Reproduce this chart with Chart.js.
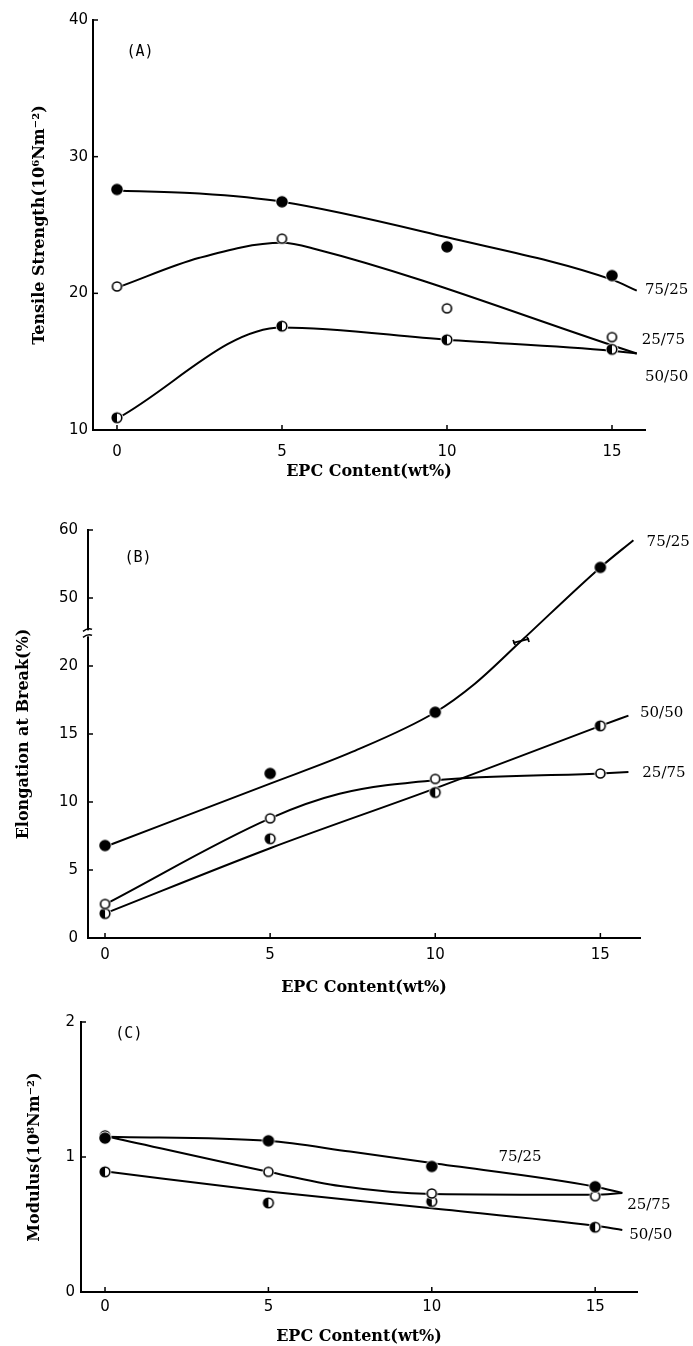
<!DOCTYPE html>
<html><head><meta charset="utf-8">
<script src="https://cdn.jsdelivr.net/npm/chart.js@4.4.1/dist/chart.umd.min.js"></script>
<style>
html,body{margin:0;padding:0;background:#fff;}
#wrap{position:relative;width:693px;height:1346px;overflow:hidden;}
canvas{position:absolute;left:0;}
</style></head><body>
<div id="wrap">
<canvas id="ca" width="693" height="490" style="top:0px"></canvas>
<canvas id="cb" width="693" height="510" style="top:490px"></canvas>
<canvas id="cc" width="693" height="346" style="top:1000px"></canvas>
</div>
<script>
// ---------- data ----------
const xContent = [0, 5, 10, 15];
const xTicks = [0, 5, 10, 15];

// (A) Tensile strength (10^6 N m^-2)
const tsA_7525 = [27.6, 26.7, 23.4, 21.3];
const tsA_2575 = [20.5, 24.0, 18.9, 16.8];
const tsA_5050 = [10.9, 17.6, 16.6, 15.9];
const yTicksA = [10, 20, 30, 40];
const curveA_7525 = [[0.15,27.5],[2.5,27.3],[5,26.7],[10,24.1],[15,21.0],[15.75,20.2]];
const curveA_2575 = [[0.1,20.5],[2.5,22.6],[5,23.7],[6,23.25],[15.75,15.6]];
const curveA_5050 = [[0.05,10.9],[5,17.5],[10,16.6],[15,15.8],[15.75,15.6]];

// (B) Elongation at break (%)
const elB_7525 = [6.8, 12.1, 16.6, 54.5];
const elB_2575 = [2.5, 8.8, 11.7, 12.1];
const elB_5050 = [1.8, 7.3, 10.7, 15.6];
const yTicksB = [0, 5, 10, 15, 20, 50, 60];
const curveB_7525 = [[0.1,6.8],[5,11.35],[7.5,13.7],[10,16.6],[11.2,18.7],[12.6,38.4],[15,54.5],[16,58.5]];
const curveB_2575 = [[0.1,2.6],[5,8.8],[7.1,10.6],[10,11.6],[15,12.1],[15.85,12.2]];
const curveB_5050 = [[0.1,1.9],[5,6.6],[10,11.0],[15,15.6],[15.85,16.35]];

// (C) Modulus (10^8 N m^-2)
const mdC_7525 = [1.14, 1.12, 0.93, 0.78];
const mdC_2575 = [1.16, 0.89, 0.73, 0.71];
const mdC_5050 = [0.89, 0.66, 0.67, 0.48];
const yTicksC = [0, 1, 2];
const curveC_7525 = [[0.1,1.15],[5,1.12],[7.5,1.04],[10,0.955],[15,0.78],[15.83,0.733]];
const curveC_2575 = [[0.1,1.15],[5,0.89],[7.2,0.785],[10,0.726],[15,0.72],[15.83,0.733]];
const curveC_5050 = [[0.1,0.89],[5,0.745],[10,0.62],[15,0.49],[15.83,0.46]];

// ---------- helpers ----------
// broken axis for (B): 0-20 linear, compressed break, 50-60 at half scale
function toT(v){ if(v<=20) return v; if(v>=45) return 25+(v-50)/2; return 20+(v-20)*0.1; }
function fromT(t){ if(t<=20) return t; if(t>=22.5) return 50+(t-25)*2; return 20+(t-20)*10; }

function marker(type, r){
  const s = Math.ceil(2*r+6);
  const c = document.createElement('canvas'); c.width=s; c.height=s;
  const g = c.getContext('2d'); const cx=s/2, cy=s/2;
  g.beginPath(); g.arc(cx,cy,r+1.5,0,Math.PI*2); g.fillStyle='#fff'; g.fill();
  g.beginPath(); g.arc(cx,cy,r,0,Math.PI*2);
  g.fillStyle = type==='filled' ? '#000' : '#fff'; g.fill();
  g.lineWidth=1.6; g.strokeStyle='#000'; g.stroke();
  if(type==='half'){
    g.beginPath(); g.moveTo(cx,cy-r); g.arc(cx,cy,r,-Math.PI/2,Math.PI/2,true); g.closePath();
    g.fillStyle='#000'; g.fill();
  }
  return c;
}
const mFilled = marker('filled',5), mOpen = marker('open',4.5), mHalf = marker('half',4.8);

const tickFont = {family:'"DejaVu Sans", sans-serif', size:15};
const titleFont = {family:'"DejaVu Serif", serif', size:16, weight:'bold'};
const seriesFont = '15px "DejaVu Serif", serif';
const tagFont = '15px "DejaVu Sans Mono", monospace';

function pts(xs, ys, f){ return xs.map((x,i)=>({x:x, y:f?f(ys[i]):ys[i]})); }
function crv(c, f){ return c.map(p=>({x:p[0], y:f?f(p[1]):p[1]})); }

function markerDs(data, img){
  return {type:'scatter', data, showLine:false, pointStyle:img, pointRadius:6, order:0};
}
function lineDs(data){
  return {type:'scatter', data, showLine:true, pointRadius:0, borderColor:'#000', borderWidth:2,
          tension:0.4, cubicInterpolationMode:'monotone', fill:false, order:1};
}

const decor = {
  id:'decor',
  afterDraw(chart, args, opts){
    const ctx = chart.ctx, xs = chart.scales.x, ys = chart.scales.y;
    ctx.save();
    ctx.strokeStyle='#000'; ctx.lineWidth=1.5;
    ys.ticks.forEach(t=>{ const py = ys.getPixelForValue(t.value);
      ctx.beginPath(); ctx.moveTo(xs.left, py); ctx.lineTo(xs.left+5, py); ctx.stroke(); });
    xs.ticks.forEach(t=>{ const px = xs.getPixelForValue(t.value);
      ctx.beginPath(); ctx.moveTo(px, ys.bottom); ctx.lineTo(px, ys.bottom-5); ctx.stroke(); });
    ctx.fillStyle='#000'; ctx.textBaseline='middle';
    (opts.labels||[]).forEach(l=>{
      ctx.font = l.font || seriesFont; ctx.textAlign = l.align || 'left';
      const yv = opts.yMap ? opts.yMap(l.y) : l.y;
      ctx.fillText(l.text, xs.getPixelForValue(l.x), ys.getPixelForValue(yv));
    });
    if(opts.after) opts.after(chart, ctx);
    ctx.restore();
  }
};

function makeChart(id, p){
  return new Chart(document.getElementById(id), {
    type:'scatter',
    data:{datasets:p.datasets},
    options:{
      responsive:false, animation:false, events:[],
      layout:{padding:{left:0, right:p.padR, top:p.padT, bottom:0}},
      plugins:{legend:{display:false}, tooltip:{enabled:false},
               decor:{labels:p.labels, yMap:p.yMap, after:p.after}},
      scales:{
        x:{type:'linear', position:'bottom', min:p.xmin, max:p.xmax,
           afterBuildTicks:s=>{ s.ticks = xTicks.map(v=>({value:v})); },
           afterFit:s=>{ s.height = p.xh; },
           grid:{display:false, drawTicks:false},
           border:{display:true, color:'#000', width:2},
           ticks:{color:'#000', font:tickFont, padding:p.xpad, maxRotation:0, autoSkip:false,
                  callback:v=>String(v)},
           title:{display:true, text:'EPC Content(wt%)', color:'#000', font:titleFont,
                  padding:{top:0, bottom:p.xtpad}}},
        y:{type:'linear', position:'left', min:p.ymin, max:p.ymax,
           afterBuildTicks:s=>{ s.ticks = p.yTicks.map(v=>({value:p.yMap?p.yMap(v):v})); },
           afterFit:s=>{ s.width = p.yw; },
           grid:{display:false, drawTicks:false},
           border:{display:true, color:'#000', width:2},
           ticks:{color:'#000', font:tickFont, padding:p.ypad, autoSkip:false,
                  callback:v=>String(Math.round(p.yInv?p.yInv(v):v))},
           title:{display:true, text:p.ytitle, color:'#000', font:titleFont,
                  padding:{top:p.ytpad, bottom:0}}}
      }
    },
    plugins:[decor]
  });
}

// ---------- (A) ----------
makeChart('ca', {
  xmin:-0.727, xmax:16.0, ymin:10, ymax:40, yTicks:yTicksA,
  padR:48, padT:20, xh:60, yw:93, xpad:13, xtpad:9, ypad:5, ytpad:30,
  ytitle:'Tensile Strength(10\u2076Nm\u207B\u00B2)',
  datasets:[
    markerDs(pts(xContent, tsA_7525), mFilled),
    markerDs(pts(xContent, tsA_2575), mOpen),
    markerDs(pts(xContent, tsA_5050), mHalf),
    lineDs(crv(curveA_7525)), lineDs(crv(curveA_2575)), lineDs(crv(curveA_5050))
  ],
  labels:[
    {text:'75/25', x:16.0, y:20.24},
    {text:'25/75', x:15.9, y:16.58},
    {text:'50/50', x:16.0, y:13.88},
    {text:'(A)', x:0.7, y:37.65, align:'center', font:tagFont}
  ]
});

// ---------- (B) ----------
makeChart('cb', {
  xmin:-0.515, xmax:16.2, ymin:0, ymax:30, yTicks:yTicksB, yMap:toT, yInv:fromT,
  padR:53, padT:40, xh:62, yw:88, xpad:8, xtpad:3, ypad:10, ytpad:14,
  ytitle:'Elongation at Break(%)',
  datasets:[
    markerDs(pts(xContent, elB_7525, toT), mFilled),
    markerDs(pts(xContent, elB_2575, toT), mOpen),
    markerDs(pts(xContent, elB_5050, toT), mHalf),
    lineDs(crv(curveB_7525, toT)), lineDs(crv(curveB_2575, toT)), lineDs(crv(curveB_5050, toT))
  ],
  labels:[
    {text:'75/25', x:16.4, y:58.2},
    {text:'50/50', x:16.2, y:16.5},
    {text:'25/75', x:16.27, y:12.1},
    {text:'(B)', x:1.0, y:55.9, align:'center', font:tagFont}
  ],
  after:(chart, ctx)=>{
    const xs = chart.scales.x, ys = chart.scales.y;
    // axis break
    const by = ys.getPixelForValue(22.4), ax = xs.left;
    ctx.fillStyle='#fff'; ctx.fillRect(ax-3, by-3, 6, 6);
    ctx.strokeStyle='#000'; ctx.lineWidth=1.5;
    ctx.beginPath(); ctx.moveTo(ax-5, by-2); ctx.quadraticCurveTo(ax, by-6, ax+4, by-4); ctx.stroke();
    ctx.beginPath(); ctx.moveTo(ax-5, by+4); ctx.quadraticCurveTo(ax, by, ax+4, by+2); ctx.stroke();
    // break mark on the 75/25 curve
    const el = chart.getDatasetMeta(3).data[5];
    ctx.lineWidth=1.8;
    ctx.beginPath(); ctx.moveTo(el.x-8, el.y+2); ctx.lineTo(el.x+8, el.y-2); ctx.stroke();
    ctx.beginPath(); ctx.moveTo(el.x-8, el.y-1); ctx.lineTo(el.x-6, el.y+4); ctx.stroke();
    ctx.beginPath(); ctx.moveTo(el.x+6, el.y-4); ctx.lineTo(el.x+8, el.y+1); ctx.stroke();
  }
});

// ---------- (C) ----------
makeChart('cc', {
  xmin:-0.735, xmax:16.28, ymin:0, ymax:2, yTicks:yTicksC,
  padR:56, padT:22, xh:54, yw:81, xpad:6, xtpad:0, ypad:6, ytpad:25,
  ytitle:'Modulus(10\u2078Nm\u207B\u00B2)',
  datasets:[
    markerDs(pts(xContent, mdC_7525), mFilled),
    markerDs(pts(xContent, mdC_2575), mOpen),
    markerDs(pts(xContent, mdC_5050), mHalf),
    lineDs(crv(curveC_7525)), lineDs(crv(curveC_2575)), lineDs(crv(curveC_5050))
  ],
  labels:[
    {text:'75/25', x:12.7, y:1.0, align:'center'},
    {text:'25/75', x:15.98, y:0.644},
    {text:'50/50', x:16.04, y:0.42},
    {text:'(C)', x:0.73, y:1.91, align:'center', font:tagFont}
  ]
});
</script>
</body></html>
